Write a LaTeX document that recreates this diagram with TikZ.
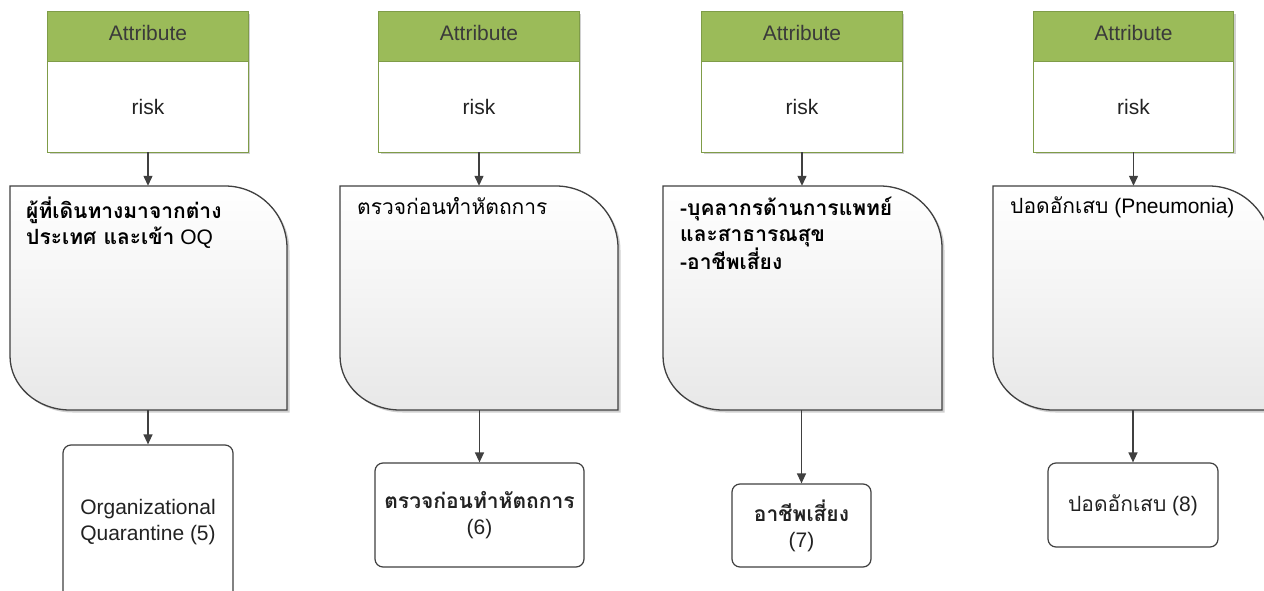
\documentclass[tikz,border=0pt]{standalone}
\usepackage{fontspec}
\setmainfont{Liberation Sans}
\newfontfamily\thaiface[Script=Thai]{Loma}
\usetikzlibrary{arrows.meta,calc,fit}

\definecolor{hdrgreen}{HTML}{9BBB59}
\definecolor{hdrline}{HTML}{7F9C48}
\definecolor{ink}{HTML}{3A3A3A}
\definecolor{txt}{HTML}{222222}
\definecolor{shapeline}{HTML}{404040}
\definecolor{shadowgray}{HTML}{D0D0D0}
\definecolor{shadebot}{HTML}{E8E8E8}

% attribute card: #1 name, #2 centre x
\newcommand\attrcard[2]{%
  \fill[shadowgray] (#2-98,14) rectangle (#2+102,154);
  \node[cardbody] (#1) at (#2,82) {};
  \fill[hdrgreen] (#1.north west) rectangle ($(#1.north east)+(0,50)$);
  \draw[cardline] (#1.north west) rectangle (#1.south east);
  \draw[cardline] ($(#1.north west)+(0,50)$) -- ($(#1.north east)+(0,50)$);
  \node[text=ink] (#1-title) at ($(#1.north)+(0,21)$) {Attribute};
  \node[text=txt] (#1-value) at ($(#1.north)+(0,95)$) {risk};
}

% criterion panel: #1 name, #2 left, #3 top, #4 right, #5 bottom
\newcommand\panel[5]{%
  \path (#2,#3) coordinate (#1-nw) (#4,#5) coordinate (#1-se);
  \node[fit=(#1-nw)(#1-se), inner sep=0pt] (#1) {};
  \begin{scope}[shift={(2.5,2.5)}]
    \fill[shadowgray] (#2,#3) -- (#4-62,#3)
      arc[start angle=-90, end angle=0, x radius=62, y radius=62]
      -- (#4,#5) -- (#2+60,#5)
      arc[start angle=90, end angle=180, x radius=60, y radius=54] -- cycle;
  \end{scope}
  \path[panelline, top color=white, bottom color=shadebot]
    (#2,#3) -- (#4-62,#3)
    arc[start angle=-90, end angle=0, x radius=62, y radius=62]
    -- (#4,#5) -- (#2+60,#5)
    arc[start angle=90, end angle=180, x radius=60, y radius=54] -- cycle;
}

\begin{document}
\begin{tikzpicture}[x=1pt, y=-1pt,
  every node/.style={font=\fontsize{21}{26}\selectfont},
  cardbody/.style={fill=white, minimum width=200pt, minimum height=140pt, inner sep=0pt},
  cardline/.style={draw=hdrline, line width=1.3pt},
  panelline/.style={draw=shapeline, line width=1.3pt},
  paneltext/.style={anchor=north west, align=left, inner sep=0pt, text=black},
  outcome/.style={draw=shapeline, line width=1.2pt, fill=white, rounded corners=8pt,
    align=center, inner sep=0pt, text=txt},
  link/.style={draw=shapeline, line width=1.3pt, -{Triangle[length=10pt, width=9pt]}}
]
\useasboundingbox (0,0) rectangle (1264,591);
\clip (0,0) rectangle (1264,591);
\fill[white] (0,0) rectangle (1264,591);

% attribute cards
\attrcard{a1}{148}
\attrcard{a2}{479}
\attrcard{a3}{802}
\attrcard{a4}{1133.5}

% criterion panels
\panel{p1}{10}{186}{287}{410}
\panel{p2}{340}{186}{618}{410}
\panel{p3}{663}{186}{942}{410}
\panel{p4}{993}{186}{1271}{410}

\node[paneltext] (p1-text) at (26,197)
  {{\thaiface\bfseries ผู้ที่เดินทางมาจากต่าง}\\{\thaiface\bfseries ประเทศ และเข้า} OQ};
\node[paneltext] (p2-text) at (357,197) {{\thaiface ตรวจก่อนทำหัตถการ}};
\node[paneltext] (p3-text) at (680,197)
  {{\thaiface\bfseries -บุคลากรด้านการแพทย์}\\{\thaiface\bfseries และสาธารณสุข}\\{\thaiface\bfseries -อาชีพเสี่ยง}};
\node[paneltext] (p4-text) at (1010,197) {{\thaiface ปอดอักเสบ} (Pneumonia)};

% outcomes
\node[outcome, minimum width=170pt, minimum height=154pt] (o5) at (148,522)
  {Organizational\\Quarantine (5)};
\node[outcome, minimum width=209pt, minimum height=104pt] (o6) at (479.5,515)
  {{\thaiface\bfseries ตรวจก่อนทำหัตถการ}\\(6)};
\node[outcome, minimum width=139pt, minimum height=83pt] (o7) at (801.5,525.5)
  {{\thaiface\bfseries อาชีพเสี่ยง}\\(7)};
\node[outcome, minimum width=170pt, minimum height=84pt] (o8) at (1133,505)
  {{\thaiface ปอดอักเสบ} (8)};

% connectors
\draw[link] (a1.south) -- (a1.south |- p1.north);
\draw[link] (a2.south) -- (a2.south |- p2.north);
\draw[link] (a3.south) -- (a3.south |- p3.north);
\draw[link] (a4.south) -- (a4.south |- p4.north);
\draw[link] (o5.north |- p1.south) -- (o5.north);
\draw[link] (o6.north |- p2.south) -- (o6.north);
\draw[link] (o7.north |- p3.south) -- (o7.north);
\draw[link] (o8.north |- p4.south) -- (o8.north);
\end{tikzpicture}
\end{document}
